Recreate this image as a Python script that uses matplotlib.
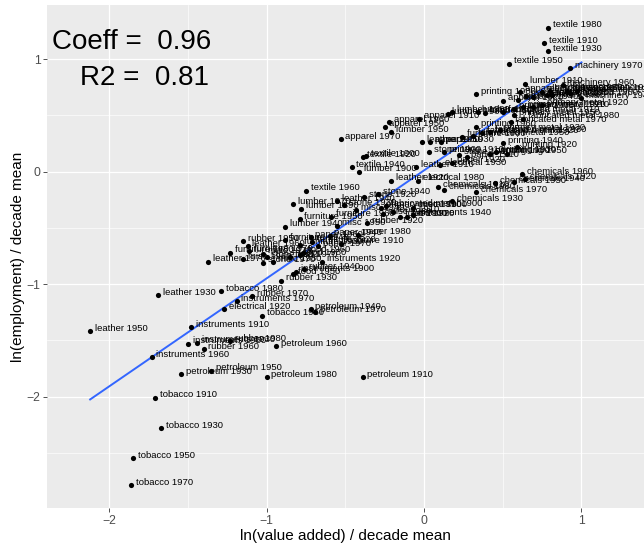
import numpy as np
import matplotlib
matplotlib.use("Agg")
import matplotlib.pyplot as plt

plt.rcParams['font.family'] = ['Liberation Sans', 'DejaVu Sans']

# industry-decade observations: log value added and log employment, relative to decade mean
labels = [
    "textile 1980", "textile 1910", "textile 1930", "textile 1950", "machinery 1970",
    "lumber 1910", "printing 1980", "machinery 1960", "transportation 1970", "transportation 1940",
    "machinery 1940", "electrical 1950", "machinery 1950", "transportation 1960", "transportation 1950",
    "electrical 1960", "apparel 1930", "apparel 1920", "apparel 1940", "machinery 1930",
    "machinery 1980", "primary metal 1920", "machinery 1920", "primary metal 1910", "printing 1970",
    "fabricated metal 1910", "lumber 1920", "lumber 1930", "primary metal 1950", "fabricated metal 1980",
    "fabricated metal 1970", "printing 1960", "primary metal 1930", "fabricated metal 1930", "fabricated metal 1920",
    "printing 1940", "printing 1920", "printing 1930", "printing 1900", "printing 1950",
    "apparel 1970", "lumber 1950", "apparel 1950", "apparel 1960", "apparel 1910",
    "lumber 1960", "lumber 1980", "leather 1900", "paper 1950", "paper 1930",
    "furniture 1900", "fabricated metal 1950", "stone 1900", "printing 1910", "stone 1910",
    "paper 1910", "paper 1920", "electrical 1930", "textile 1920", "textile 1900",
    "textile 1940", "lumber 1900", "leather 1910", "leather 1920", "electrical 1980",
    "chemicals 1960", "chemicals 1920", "chemicals 1940", "chemicals 1950", "chemicals 1910",
    "chemicals 1980", "chemicals 1970", "chemicals 1930",
    "textile 1960", "lumber 1970", "lumber 1890", "furniture 1950", "lumber 1940",
    "stone 1920", "stone 1940", "leather 1940", "stone 1930", "misc 1940",
    "primary metal 1900", "fabricated metal 1900", "food 1910", "food 1900", "food 1920",
    "misc 1930", "instruments 1940", "misc 1910", "furniture 1960", "misc 1950",
    "rubber 1920",
    "rubber 1950", "leather 1960", "furniture 1970", "furniture 1980", "leather 1970",
    "misc 1960", "misc 1970", "stone 1970", "misc 1980", "stone 1980",
    "furniture 1940", "furniture 1930", "paper 1960", "furniture 1920", "paper 1970",
    "food 1980", "food 1970", "food 1960", "instruments 1920", "paper 1940",
    "furniture 1910", "paper 1980", "rubber 1940", "instruments 1900", "food 1950",
    "rubber 1930",
    "leather 1930", "tobacco 1980", "rubber 1970", "instruments 1970", "electrical 1920",
    "tobacco 1960", "petroleum 1940", "petroleum 1970", "leather 1950", "instruments 1910",
    "instruments 1950", "instruments 1930", "rubber 1980", "rubber 1960", "petroleum 1960",
    "instruments 1960", "petroleum 1930", "petroleum 1950", "petroleum 1980", "petroleum 1910",
    "tobacco 1910", "tobacco 1930", "tobacco 1950", "tobacco 1970",
]

value_added = [
    0.79, 0.76, 0.79, 0.54, 0.93,
    0.64, 0.33, 0.88, 0.91, 0.97,
    1.00, 0.78, 0.80, 0.81, 0.93,
    0.75, 0.61, 0.50, 0.60, 0.65,
    0.69, 0.75, 0.69, 0.63, 0.57,
    0.50, 0.39, 0.34, 0.57, 0.63,
    0.55, 0.33, 0.48, 0.42, 0.37,
    0.50, 0.59, 0.46, 0.42, 0.53,
    -0.53, -0.21, -0.25, -0.22, -0.03,
    0.15, 0.18, -0.01, 0.04, 0.11,
    0.24, 0.31, 0.03, 0.13, 0.22,
    0.27, 0.18, 0.10, -0.39, -0.37,
    -0.46, -0.41, -0.05, -0.21, -0.04,
    0.62, 0.64, 0.57, 0.45, 0.09,
    0.13, 0.33, 0.18,
    -0.75, -0.83, -0.78, -0.79, -0.88,
    -0.38, -0.29, -0.55, -0.51, -0.43,
    -0.27, -0.24, -0.20, -0.15, -0.11,
    -0.26, -0.07, -0.07, -0.59, -0.55,
    -0.36,
    -1.15, -1.12, -1.11, -1.23, -1.37,
    -1.15, -1.02, -1.02, -0.96, -1.00,
    -0.88, -0.79, -0.72, -0.71, -0.67,
    -0.79, -0.85, -0.77, -0.65, -0.60,
    -0.53, -0.42, -0.76, -0.81, -0.83,
    -0.91,
    -1.69, -1.29, -1.09, -1.19, -1.27,
    -1.03, -0.72, -0.69, -2.12, -1.48,
    -1.50, -1.44, -1.23, -1.40, -0.94,
    -1.73, -1.54, -1.35, -1.00, -0.39,
    -1.71, -1.67, -1.85, -1.86,
]

employment = [
    1.28, 1.14, 1.07, 0.96, 0.92,
    0.78, 0.69, 0.77, 0.72, 0.72,
    0.65, 0.68, 0.72, 0.68, 0.70,
    0.71, 0.71, 0.63, 0.64, 0.67,
    0.66, 0.59, 0.57, 0.57, 0.56,
    0.53, 0.52, 0.53, 0.50, 0.47,
    0.44, 0.40, 0.37, 0.35, 0.34,
    0.25, 0.22, 0.17, 0.16, 0.16,
    0.29, 0.35, 0.40, 0.44, 0.47,
    0.51, 0.53, 0.26, 0.26, 0.26,
    0.31, 0.32, 0.17, 0.17, 0.15,
    0.13, 0.08, 0.06, 0.13, 0.14,
    0.04, 0.00, 0.04, -0.08, -0.08,
    -0.02, -0.07, -0.09, -0.10, -0.14,
    -0.16, -0.18, -0.26,
    -0.17, -0.29, -0.33, -0.42, -0.49,
    -0.23, -0.20, -0.26, -0.30, -0.34,
    -0.32, -0.31, -0.36, -0.40, -0.40,
    -0.38, -0.39, -0.32, -0.40, -0.48,
    -0.46,
    -0.62, -0.66, -0.71, -0.72, -0.80,
    -0.78, -0.73, -0.81, -0.80, -0.76,
    -0.61, -0.65, -0.58, -0.63, -0.66,
    -0.74, -0.76, -0.72, -0.80, -0.57,
    -0.64, -0.56, -0.87, -0.89, -0.91,
    -0.97,
    -1.10, -1.06, -1.11, -1.15, -1.22,
    -1.28, -1.22, -1.25, -1.42, -1.38,
    -1.53, -1.52, -1.51, -1.58, -1.55,
    -1.65, -1.80, -1.77, -1.83, -1.83,
    -2.01, -2.28, -2.55, -2.79,
]

# linear fit
coeff = 0.96
intercept = 0.01
r2 = 0.81

x = np.array(value_added)
y = np.array(employment)

fig = plt.figure(figsize=(6.44, 5.48), dpi=100)
ax = fig.add_axes([47 / 644, 1 - 508 / 548, 597 / 644, 503 / 548])
ax.set_facecolor('#EBEBEB')

ax.set_xlim(-2.394, 1.397)
ax.set_ylim(-2.99, 1.48)
ax.set_xticks([-2, -1, 0, 1])
ax.set_yticks([-2, -1, 0, 1])
ax.set_xticklabels(['\u22122', '\u22121', '0', '1'])
ax.set_yticklabels(['\u22122', '\u22121', '0', '1'])
ax.set_xticks([-1.5, -0.5, 0.5], minor=True)
ax.set_yticks([-2.5, -1.5, -0.5, 0.5], minor=True)
ax.grid(which='major', color='white', linewidth=0.9)
ax.grid(which='minor', color='white', linewidth=0.45)
ax.set_axisbelow(True)
for s in ax.spines.values():
    s.set_visible(False)
ax.tick_params(which='major', length=2.75, width=0.6, color='#333333',
               labelcolor='#4D4D4D', labelsize=8.8, pad=2)
ax.tick_params(which='minor', length=0)

# points and their labels
ax.scatter(x, y, s=14, color='black', zorder=3, linewidths=0)
for xi, yi, lab in zip(x, y, labels):
    ax.annotate(lab, (xi, yi), xytext=(3.5, 2), textcoords='offset points',
                ha='left', va='center', fontsize=6.8, color='black', zorder=4)

# fitted line over the range of the data
xs = np.array([x.min(), x.max()])
ax.plot(xs, intercept + coeff * xs, color='#3366FF', linewidth=1.4, zorder=2)

ax.text(0.008, 0.926, 'Coeff =  %.2f' % coeff, transform=ax.transAxes,
        fontsize=20, ha='left', va='center', color='black')
ax.text(0.055, 0.855, 'R2 =  %.2f' % r2, transform=ax.transAxes,
        fontsize=20, ha='left', va='center', color='black')

ax.set_xlabel('ln(value added) / decade mean', fontsize=11, labelpad=2)
ax.set_ylabel('ln(employment) / decade mean', fontsize=11, labelpad=1)

fig.savefig('out.png', dpi=100)
